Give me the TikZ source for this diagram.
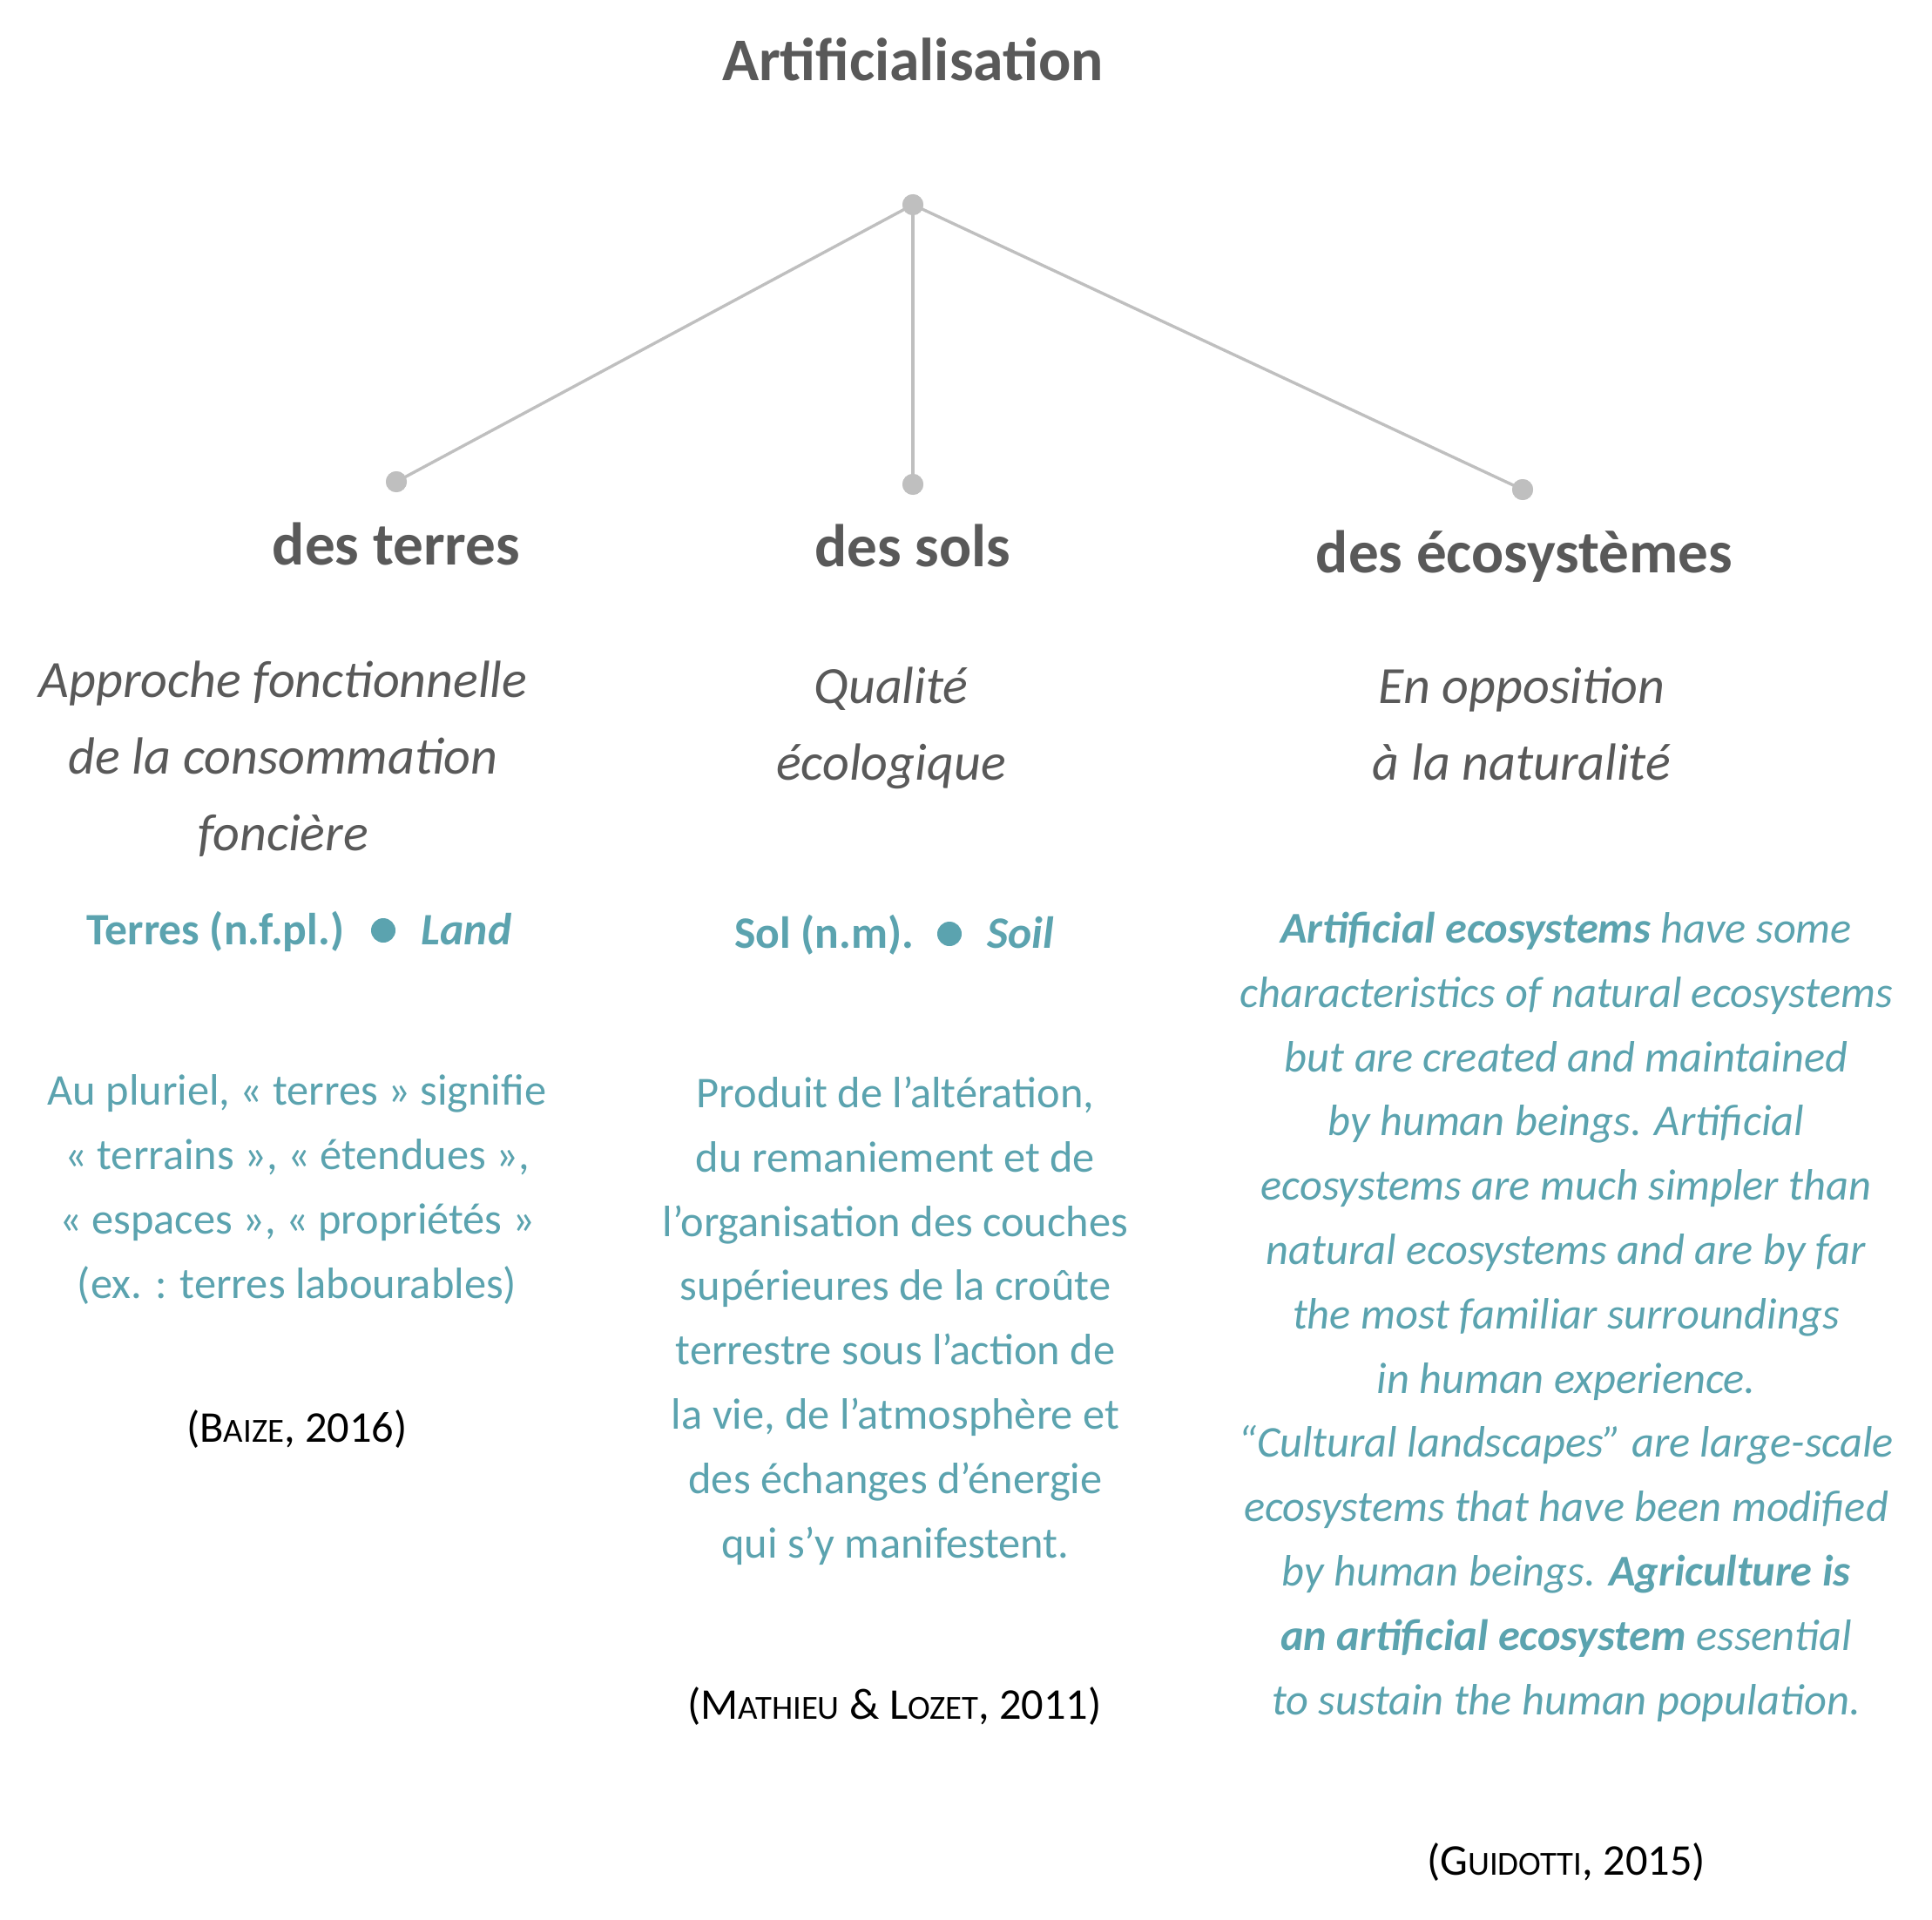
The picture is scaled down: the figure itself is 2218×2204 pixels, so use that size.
\documentclass[tikz,border=0pt]{standalone}
\usepackage{fontspec}
\setmainfont{Carlito}
\definecolor{dgray}{HTML}{595959}
\definecolor{lgray}{HTML}{BFBFBF}
\definecolor{teal}{HTML}{5BA3AF}
\newcommand{\smc}[1]{{\fontsize{9.7}{10}\selectfont #1}}
\begin{document}
\begin{tikzpicture}[x=0.25pt,y=-0.25pt,
  dotg/.style={circle,fill=lgray,inner sep=0pt,minimum size=6pt},
  dott/.style={circle,fill=teal,inner sep=0pt,minimum size=7pt},
  conn/.style={draw=lgray,line width=0.85pt},
  title/.style={font=\fontsize{17.4}{22}\selectfont\bfseries,text=dgray,anchor=base,inner sep=0pt},
  head/.style={font=\fontsize{17.3}{22}\selectfont\bfseries,text=dgray,anchor=base,inner sep=0pt},
  sub/.style={font=\fontsize{15}{21.9}\selectfont\itshape,text=dgray,anchor=base,align=center,inner sep=0pt},
  lab/.style={font=\fontsize{12.9}{15}\selectfont\bfseries,text=teal,anchor=base,inner sep=0pt},
  labi/.style={font=\fontsize{12.9}{15}\selectfont\bfseries\itshape,text=teal,anchor=base,inner sep=0pt},
  body/.style={font=\fontsize{12.6}{18.45}\selectfont,text=teal,anchor=base,align=center,inner sep=0pt},
  bodyi/.style={font=\fontsize{12.6}{18.45}\selectfont\itshape,text=teal,anchor=base,align=center,inner sep=0pt},
  cite/.style={font=\fontsize{12.6}{15}\selectfont,text=black,anchor=base,inner sep=0pt}]
\useasboundingbox[fill=white] (0,0) rectangle (2218,2204);
\node[title] (t) at (1048,93) {Artificialisation};
\node[dotg] (d0) at (1048,235) {};
\node[dotg] (d1) at (455,553) {};
\node[dotg] (d2) at (1048,556) {};
\node[dotg] (d3) at (1748,562) {};
\draw[conn] (d0.center) -- (d1.center);
\draw[conn] (d0.center) -- (d2.center);
\draw[conn] (d0.center) -- (d3.center);
\node[dotg] at (d0) {};
\node[dotg] at (d1) {};
\node[dotg] at (d2) {};
\node[dotg] at (d3) {};
\node[head] (h1) at (455,648) {des terres};
\node[head] (h2) at (1048,650) {des sols};
\node[head] (h3) at (1750,657) {des écosystèmes};
\node[sub] (s1) at (325,976) {Approche fonctionnelle\\de la consommation\\foncière};
\node[sub] (s2) at (1023,895) {Qualité\\écologique};
\node[sub] (s3) at (1747,895) {En opposition\\à la naturalité};
\node[lab,anchor=base east] (l1) at (396,1084) {Terres (n.f.pl.)};
\node[dott] (ld1) at (440,1068) {};
\node[labi,anchor=base west] (l1b) at (483,1084) {Land};
\node[lab,anchor=base east] (l2) at (1050,1088) {Sol (n.m).};
\node[dott] (ld2) at (1090,1072) {};
\node[labi,anchor=base west] (l2b) at (1133,1088) {Soil};
\node[body] (b1) at (341,1490) {Au pluriel, « terres » signifie\\« terrains », « étendues »,\\« espaces », « propriétés »\\(ex. : terres labourables)};
\node[body] (b2) at (1028,1788) {Produit de l’altération,\\du remaniement et de\\l’organisation des couches\\supérieures de la croûte\\terrestre sous l’action de\\la vie, de l’atmosphère et\\des échanges d’énergie\\qui s’y manifestent.};
\node[bodyi] (b3) at (1798,1968) {\textbf{Artificial ecosystems} have some\\characteristics of natural ecosystems\\but are created and maintained\\by human beings. Artificial\\ecosystems are much simpler than\\natural ecosystems and are by far\\the most familiar surroundings\\in human experience.\\“Cultural landscapes” are large-scale\\ecosystems that have been modified\\by human beings. \textbf{Agriculture is}\\\textbf{an artificial ecosystem} essential\\to sustain the human population.};
\node[cite] (c1) at (341,1655) {(B\smc{AIZE}, 2016)};
\node[cite] (c2) at (1027,1973) {(M\smc{ATHIEU} \& L\smc{OZET}, 2011)};
\node[cite] (c3) at (1798,2152) {(G\smc{UIDOTTI}, 2015)};
\end{tikzpicture}
\end{document}
